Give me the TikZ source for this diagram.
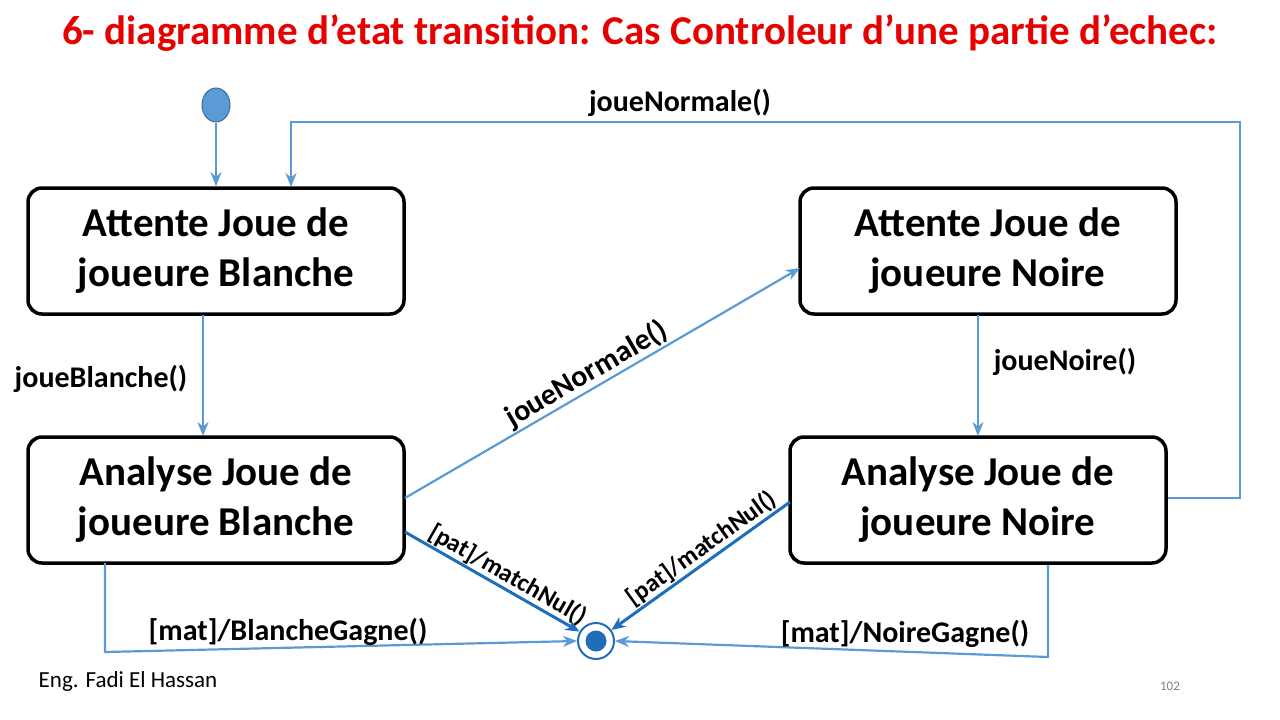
\documentclass[tikz,border=0pt]{standalone}
\usepackage{fontspec}
\setmainfont{Carlito}
\usetikzlibrary{arrows.meta,shapes.geometric}
\definecolor{ln}{RGB}{91,155,213}
\definecolor{dk}{RGB}{30,110,185}
\definecolor{ttl}{RGB}{230,0,0}
\newcommand\myap{\char"0027\relax}
\begin{document}
\begin{tikzpicture}[x=1pt,y=-1pt,
  st/.style={draw=black,line width=3.5pt,rounded corners=14pt,minimum width=376pt,minimum height=126pt,align=center,font=\fontsize{41}{50}\selectfont\bfseries},
  tr/.style={draw=ln,line width=2.2pt,-{Stealth[length=14pt,width=11pt]}},
  trd/.style={draw=dk,line width=3pt,-{Stealth[length=14pt,width=12pt]}},
  lb/.style={font=\fontsize{30}{34}\selectfont\bfseries,inner sep=1pt}]
\useasboundingbox (0,0) rectangle (1280,720);
\node[ttl,font=\fontsize{41}{48}\selectfont\bfseries] (title) at (640,33) {6- diagramme d\myap etat transition: Cas Controleur d\myap une partie d\myap echec:};
\node[st] (A) at (216,251) {Attente Joue de\\joueure Blanche};
\node[st] (B) at (988,251) {Attente Joue de\\joueure Noire};
\node[st] (C) at (216,500) {Analyse Joue de\\joueure Blanche};
\node[st] (D) at (978,500) {Analyse Joue de\\joueure Noire};
\node[fill=ln,ellipse,minimum width=28pt,minimum height=34pt,inner sep=0pt,line width=1pt,draw=ln!70!black] (I) at (216,105) {};
\node[circle,draw=dk,line width=2pt,minimum size=36pt,inner sep=0pt,fill=white] (F) at (596,641) {};
\node[circle,fill=dk,minimum size=21pt,inner sep=0pt] (Fi) at (596,641) {};
\draw[tr] (I) -- (A.north -| I);
\draw[tr] (203,315) -- (203,436);
\node[lb] (l1) at (101,379) {joueBlanche()};
\draw[tr] (978,315) -- (978,436);
\node[lb] (l2) at (1065,362) {joueNoire()};
\coordinate (r1) at (1240,498);
\coordinate (r2) at (1240,122);
\coordinate (r3) at (291,122);
\draw[tr] (D.east |- r1) -- (r1) -- (r2) -- (r3) -- (291,187);
\node[lb] (l3) at (680,103) {joueNormale()};
\draw[tr] (405,498) -- node[lb,sloped,above,pos=0.48] {joueNormale()} (800,268);
\draw[trd] (405,532) -- node[lb,sloped,above,pos=0.55,font=\fontsize{25}{28}\selectfont\bfseries] {[pat]/matchNul()} (F);
\draw[trd] (790,502) -- node[lb,sloped,above,pos=0.45,font=\fontsize{25}{28}\selectfont\bfseries] {[pat]/matchNul()} (F);
\coordinate (b1) at (105,652);
\draw[tr] (105,563) -- (b1) -- (F.west);
\node[lb] (l4) at (288,632) {[mat]/BlancheGagne()};
\coordinate (b2) at (1048,657);
\draw[tr] (1048,565) -- (b2) -- (F.east);
\node[lb] (l5) at (905,634) {[mat]/NoireGagne()};
\node[font=\fontsize{23}{26}\selectfont] (ft) at (128,681) {Eng. Fadi El Hassan};
\node[font=\fontsize{13}{15}\selectfont,gray] (pg) at (1170,686) {102};
\end{tikzpicture}
\end{document}
